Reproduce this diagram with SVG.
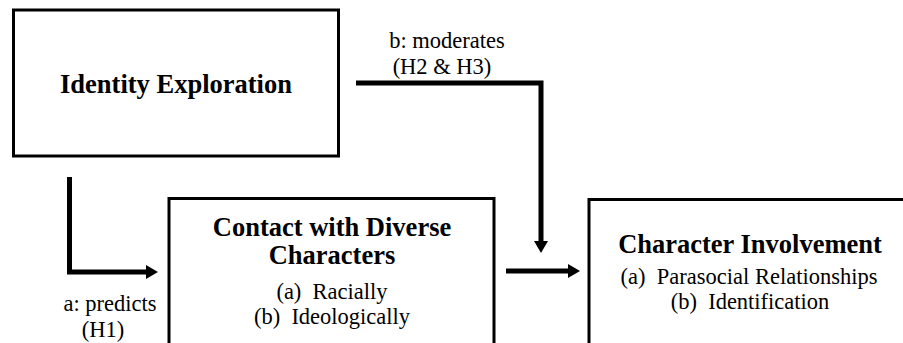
<svg xmlns="http://www.w3.org/2000/svg" width="903" height="343" viewBox="0 0 903 343">
<style>
text{font-family:"Liberation Serif","Times New Roman","DejaVu Serif",serif;fill:#000;text-anchor:middle;white-space:pre}
.t{font-size:26.5px;font-weight:bold;font-family:"Liberation Serif","Times New Roman","DejaVu Serif",serif}
.r{font-size:22.5px;font-weight:normal;font-style:normal;font-family:"Liberation Serif","Times New Roman","DejaVu Serif",serif}
.box{fill:#fff;stroke:#000;stroke-width:3}
.conn{fill:none;stroke:#000;stroke-width:5;stroke-linejoin:miter}
</style>
<defs>
<marker id="ah" viewBox="0 0 12 14" refX="2" refY="7" markerWidth="12" markerHeight="14" markerUnits="userSpaceOnUse" orient="auto">
<path d="M0,0 L12,7 L0,14 Z" fill="#000"/>
</marker>
</defs>
<rect width="903" height="343" fill="#fff"/>
<g id="identity">
<rect class="box" x="13.5" y="10" width="325" height="146"/>
<text class="t" x="176" y="93">Identity Exploration</text>
</g>
<g id="contact">
<rect class="box" x="169" y="198.5" width="325" height="160"/>
<text class="t" x="332" y="236">Contact with Diverse</text>
<text class="t" x="332" y="264">Characters</text>
<text class="r" x="332" y="299">(a)  Racially</text>
<text class="r" x="332" y="324">(b)  Ideologically</text>
</g>
<g id="involvement">
<rect class="box" x="589" y="199.5" width="330" height="160"/>
<text class="t" x="750" y="253">Character Involvement</text>
<text class="r" x="749" y="284">(a)  Parasocial Relationships</text>
<text class="r" x="750" y="309">(b)  Identification</text>
</g>
<g id="connectors">
<path class="conn" d="M69.5,177 V272 H148" marker-end="url(#ah)"/>
<path class="conn" d="M356,83 H541 V243" marker-end="url(#ah)"/>
<path class="conn" d="M506,271 H570" marker-end="url(#ah)"/>
</g>
<g id="labels">
<text class="r" x="447" y="48">b: moderates</text>
<text class="r" x="442" y="74">(H2 &amp; H3)</text>
<text class="r" x="110" y="311">a: predicts</text>
<text class="r" x="103" y="337">(H1)</text>
</g>
</svg>
